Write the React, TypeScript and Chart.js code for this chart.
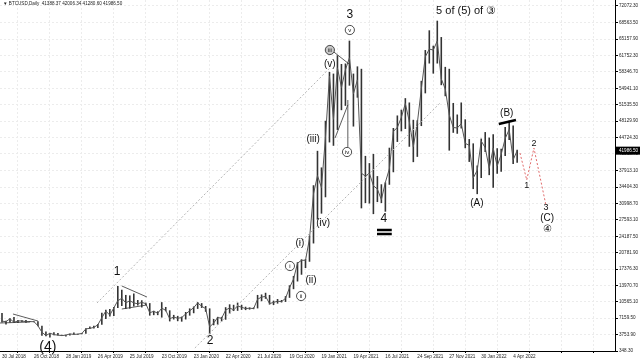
import { useEffect, useRef } from 'react';
import { Chart, registerables } from 'chart.js';

Chart.register(...registerables);

// ---- data ----
const dateTicks = [
  '30 Jul 2018', '26 Oct 2018', '28 Jan 2019', '26 Apr 2019', '25 Jul 2019', '23 Oct 2019',
  '23 Jan 2020', '22 Apr 2020', '21 Jul 2020', '19 Oct 2020', '19 Jan 2021', '19 Apr 2021',
  '16 Jul 2021', '24 Sep 2021', '27 Nov 2021', '30 Jan 2022', '4 Apr 2022',
];

const priceTicks = [
  72072.3, 68563.5, 65157.9, 61752.3, 58346.7, 54941.1, 51535.5, 48129.9, 44724.3, 41318.7,
  37913.1, 34404.3, 30998.7, 27593.1, 24187.5, 20781.9, 17376.3, 13970.7, 10565.1, 7159.5,
  3753.9, 348.3,
];

// one entry per 8-bar column (low / high / close)
const barLows = [
  6250, 5880, 6250, 6250, 6150, 6400, 6200, 6350,
  6300, 5500, 3500, 3400, 3150, 3600, 3550, 3450,
  3350, 3550, 3700, 3750, 3850, 3950, 4900, 5050,
  5150, 5800, 7000, 7500, 7600, 9300, 9700, 9100,
  9150, 9600, 9800, 9400, 9900, 7700, 7800, 7800,
  7300, 8600, 6500, 6900, 6550, 6450, 6900, 7700,
  8200, 9100, 9300, 8500, 3850, 5700, 5850, 6500,
  6850, 8100, 8650, 8700, 8900, 8850, 8950, 9050,
  9200, 10700, 11200, 10000, 9900, 10200, 10450, 10550,
  11400, 13200, 14800, 16200, 17600, 18900, 22700, 27700,
  28900, 32300, 43700, 43000, 46300, 50400, 51300, 55500,
  47000, 53000, 30000, 31100, 31000, 28800, 31300, 31100,
  29300, 34900, 37500, 43800, 46000, 46500, 42800, 39600,
  40700, 47100, 53900, 60100, 58000, 60100, 55600, 53300,
  42000, 45700, 45500, 46600, 42500, 39650, 34000, 32950,
  36300, 41700, 36900, 34300, 37200, 37600, 40900, 44200,
  39200, 39500,
];
const barHighs = [
  8250, 6650, 7150, 7400, 6800, 6750, 6800, 6600,
  6550, 6550, 5600, 4400, 4100, 4250, 4100, 3700,
  3700, 3950, 4200, 3950, 4100, 5100, 5450, 5600,
  5950, 8300, 8900, 9100, 9500, 13850, 13100, 12000,
  11900, 12300, 10950, 10900, 10400, 10300, 8700, 8600,
  10500, 9500, 8800, 7850, 7650, 7500, 8450, 9200,
  9600, 10500, 10300, 9700, 9200, 7000, 7450, 7450,
  9450, 10050, 9950, 10400, 9950, 9550, 9400, 9400,
  12000, 12100, 12450, 12000, 10800, 11150, 10950, 11750,
  14000, 15950, 18800, 19400, 19450, 24300, 34800, 41950,
  38500, 48200, 58350, 58000, 61800, 60000, 60100, 64850,
  58000, 59500, 59000, 40900, 39400, 41300, 36700, 35000,
  35400, 42600, 46700, 49300, 50500, 52900, 52000, 48400,
  48300, 56500, 62900, 67000, 63800, 69000, 65600, 59400,
  59000, 51900, 49500, 52000, 48500, 44400, 43500, 38900,
  44500, 45850, 44700, 45400, 42500, 42400, 46900, 48200,
  47200, 42200,
];
const barCloses = [
  6550, 6450, 7050, 6300, 6600, 6600, 6450, 6450,
  6450, 5600, 4250, 3550, 4050, 3750, 3650, 3550,
  3650, 3900, 3800, 3850, 4000, 4950, 5050, 5250,
  5800, 7250, 8650, 7800, 9300, 10800, 11300, 10350,
  10800, 10350, 10150, 10450, 10200, 8300, 8600, 8200,
  9250, 8800, 7050, 7400, 7150, 7300, 8050, 8700,
  9350, 10350, 9650, 9150, 5350, 6150, 7300, 7150,
  8850, 9300, 8900, 9700, 9450, 9150, 9250, 9150,
  11100, 11550, 11700, 10200, 10450, 10700, 10600, 11300,
  13500, 15300, 18600, 19200, 19200, 23700, 33000, 36800,
  34300, 44800, 57500, 48500, 59200, 55100, 58800, 61300,
  53800, 56700, 37300, 36700, 37300, 34700, 34000, 31800,
  35400, 38200, 46000, 46800, 48900, 51800, 48000, 42800,
  47700, 54800, 61500, 63100, 62900, 64800, 56900, 54800,
  49400, 46800, 46700, 47600, 43500, 43100, 36300, 37900,
  44000, 42600, 38300, 42500, 38800, 41200, 44500, 46400,
  40100, 41986.5,
];

const lastPrice = 41986.5;
const headerText = '\u25BC BTCUSD,Daily  41388.37 42006.34 41280.60 41986.50';

// wave labels in data coordinates (column, price)
const waveText = ['1', '(4)', '2', '3', 'v', 'iii', '(v)', '(iii)', 'iv', '(iv)', '(i)', '(ii)', 'i', 'ii', '4', '5 of (5) of \u2462', '(A)', '(B)', '2', '1', '3', '(C)', '\u2463'];
const waveCol = [28.8, 11.5, 52.1, 87.1, 87.1, 82.1, 82.1, 77.9, 86.4, 80.4, 74.6, 77.4, 72.1, 74.9, 95.6, 108.7, 118.9, 126.4, 133.2, 131.4, 136.2, 136.5, 136.5];
const wavePrice = [16768, 1180, 2427, 70182, 67066, 62908, 60000, 44410, 41710, 26952, 22795, 15105, 18015, 11780, 27783, 71014, 31108, 49814, 43371, 34642, 30070, 27991, 25704];
const waveKind = ['big', 'huge', 'big', 'big', 'circle', 'circleFill', 'mid', 'mid', 'circle', 'mid', 'mid', 'mid', 'circle', 'circle', 'big', 'bigLeft', 'mid', 'mid', 'small', 'small', 'small', 'mid', 'mid'];

// lines in data coordinates
const lineKind = ['channel', 'channel', 'projection', 'pointer', 'pointer', 'pointer', 'pointer', 'pointer', 'pointer', 'pointer', 'mark', 'mark', 'mark'];
const linePoints: [number, number][][] = [
  [[23.8, 10325], [82.1, 59167]],
  [[48.3, 972], [109.7, 51892]],
  [[129.7, 41500], [131.4, 35889], [133.2, 42540], [136.2, 30693]],
  [[83.1, 62493], [86.9, 59999]],
  [[83.4, 44619], [86.6, 51477]],
  [[86.6, 42748], [86.6, 52516]],
  [[30.0, 13858], [36.3, 11571]],
  [[30.0, 9077], [36.3, 9909]],
  [[2.75, 8038], [9.0, 6583]],
  [[-0.5, 6168], [7.0, 6376]],
  [[93.9, 25497], [97.6, 25497]],
  [[93.9, 24666], [97.6, 24666]],
  [[124.4, 47528], [128.7, 48360]],
];

// ---- styles ----
const FONT = '"Liberation Sans", Arial, sans-serif';
const labelStyle: Record<string, { size: number; align: CanvasTextAlign }> = {
  huge: { size: 14, align: 'center' },
  big: { size: 12, align: 'center' },
  bigLeft: { size: 11, align: 'left' },
  mid: { size: 10, align: 'center' },
  small: { size: 9, align: 'center' },
  circle: { size: 6, align: 'center' },
  circleFill: { size: 6, align: 'center' },
};
const lineStyle: Record<string, { color: string; width: number; dash: number[] }> = {
  channel: { color: '#b4b4b4', width: 1, dash: [2, 2] },
  projection: { color: '#e06a6a', width: 1, dash: [2, 2] },
  pointer: { color: '#333', width: 0.8, dash: [] },
  mark: { color: '#000', width: 2.5, dash: [] },
};

const wavePlugin = {
  id: 'waves',
  afterDatasetsDraw(chart: any) {
    const { ctx, scales } = chart;
    const px = (c: number) => scales.x.getPixelForValue(c);
    const py = (p: number) => scales.y.getPixelForValue(p);
    ctx.save();
    linePoints.forEach((pts, i) => {
      const st = lineStyle[lineKind[i]];
      ctx.beginPath();
      ctx.strokeStyle = st.color;
      ctx.lineWidth = st.width;
      ctx.setLineDash(st.dash);
      pts.forEach(([c, p], j) => (j ? ctx.lineTo(px(c), py(p)) : ctx.moveTo(px(c), py(p))));
      ctx.stroke();
    });
    ctx.setLineDash([]);
    waveText.forEach((t, i) => {
      const kind = waveKind[i];
      const st = labelStyle[kind];
      const x = px(waveCol[i]);
      const y = py(wavePrice[i]);
      if (kind === 'circle' || kind === 'circleFill') {
        ctx.beginPath();
        ctx.arc(x, y, 4.6, 0, Math.PI * 2);
        if (kind === 'circleFill') {
          ctx.fillStyle = '#c8c8c8';
          ctx.fill();
        }
        ctx.lineWidth = 0.8;
        ctx.strokeStyle = '#222';
        ctx.stroke();
      }
      ctx.font = `${st.size}px ${FONT}`;
      ctx.fillStyle = '#111';
      ctx.textAlign = st.align;
      ctx.textBaseline = 'middle';
      ctx.fillText(t, x, y);
    });
    ctx.restore();
  },
  afterDraw(chart: any) {
    const { ctx, scales } = chart;
    ctx.save();
    ctx.font = `4.6px ${FONT}`;
    ctx.fillStyle = '#222';
    ctx.textAlign = 'left';
    ctx.textBaseline = 'middle';
    ctx.fillText(headerText, 3, 4);
    const y = scales.y.getPixelForValue(lastPrice);
    const left = scales.y.left;
    ctx.fillStyle = '#000';
    ctx.fillRect(left + 1, y - 4, chart.width - left - 1, 8);
    ctx.fillStyle = '#fff';
    ctx.fillText(lastPrice.toFixed(2), left + 4, y);
    ctx.restore();
  },
};

export default function App() {
  const ref = useRef<HTMLCanvasElement>(null);
  useEffect(() => {
    document.body.style.margin = '0';
    const tickFont = { size: 4.6, family: FONT };
    const chart = new Chart(ref.current as HTMLCanvasElement, {
      type: 'bar',
      data: {
        datasets: [
          {
            type: 'line',
            data: barCloses.map((c, i) => ({ x: i, y: c })) as any,
            borderColor: '#555',
            borderWidth: 1,
            pointRadius: 0,
            tension: 0,
          },
          {
            data: barLows.map((l, i) => ({ x: i, y: [l, barHighs[i]] })) as any,
            backgroundColor: '#333',
            borderWidth: 0,
            barPercentage: 0.4,
            categoryPercentage: 1,
          },
        ],
      },
      options: {
        responsive: false,
        devicePixelRatio: 1,
        animation: false,
        events: [],
        layout: { padding: 0 },
        plugins: { legend: { display: false }, tooltip: { enabled: false }, title: { display: false } },
        scales: {
          x: {
            type: 'linear',
            min: -0.5,
            max: 153.5,
            offset: false,
            afterBuildTicks: (s: any) => {
              const t = [];
              for (let v = 0; v <= 152; v += 8) t.push({ value: v });
              s.ticks = t;
            },
            afterFit: (s: any) => {
              s.height = 9;
              s.paddingLeft = 0;
              s.paddingRight = 0;
            },
            ticks: {
              autoSkip: false,
              maxRotation: 0,
              minRotation: 0,
              align: 'start',
              padding: 1,
              color: '#222',
              font: tickFont,
              callback: (v: any) => dateTicks[Math.round(Number(v) / 8)] ?? '',
            },
            grid: { color: '#ececec', tickColor: '#000', tickLength: 2, lineWidth: 1 },
            border: { color: '#000', dash: [2, 2] },
          },
          y: {
            type: 'linear',
            position: 'right',
            min: 348.3,
            max: 73300,
            afterBuildTicks: (s: any) => {
              s.ticks = priceTicks.map((v) => ({ value: v }));
            },
            afterFit: (s: any) => {
              s.width = 25;
              s.paddingTop = 0;
              s.paddingBottom = 0;
            },
            ticks: {
              autoSkip: false,
              padding: 1,
              color: '#222',
              font: tickFont,
              callback: (v: any) => Number(v).toFixed(2),
            },
            grid: { color: '#ececec', tickColor: '#000', tickLength: 3, lineWidth: 1 },
            border: { color: '#000', dash: [2, 2] },
          },
        },
      },
      plugins: [wavePlugin],
    } as any);
    return () => chart.destroy();
  }, []);
  return (
    <div style={{ width: 640, height: 360, background: '#fff' }}>
      <canvas ref={ref} width={640} height={360} style={{ display: 'block' }} />
    </div>
  );
}
